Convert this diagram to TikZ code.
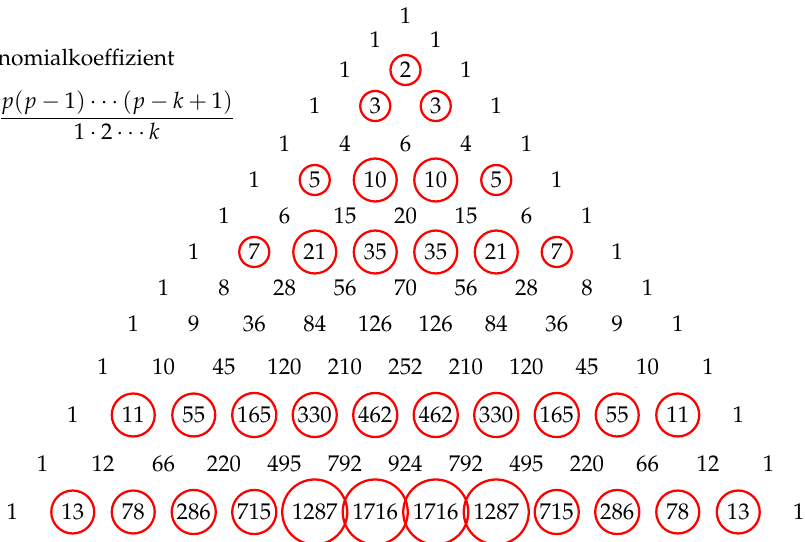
\documentclass[tikz,border=0pt]{standalone}
\usepackage[T1]{fontenc}
\usepackage{mathpazo}
\tikzset{num/.style={inner sep=0pt, font=\normalsize},
  ring/.style={circle, draw=red, line width=1pt, inner sep=0pt, minimum size=#1},
  note/.style={inner sep=0pt, anchor=base east}}
\begin{document}
\begin{tikzpicture}[x=0.44pt, y=-0.44pt]
\clip (0,0) rectangle (805,542);
% ---- label ----
\node[note] (lbl) at (175,65) {Binomialkoeffizient};
\node[note] (frm) at (236,124) {$\displaystyle\frac{p(p-1)\cdots(p-k+1)}{1\cdot 2\cdots k}$};
% ---- triangle, prime rows ringed ----
\foreach \n/\ry/\isp/\row in {0/15.5/0/{1}, 1/40/0/{1,1}, 2/70/1/{1,2,1}, 3/106/1/{1,3,3,1},
  4/144/0/{1,4,6,4,1}, 5/180/1/{1,5,10,10,5,1}, 6/216/0/{1,6,15,20,15,6,1},
  7/252/1/{1,7,21,35,35,21,7,1}, 8/288/0/{1,8,28,56,70,56,28,8,1},
  9/324/0/{1,9,36,84,126,126,84,36,9,1}, 10/367/0/{1,10,45,120,210,252,210,120,45,10,1},
  11/415/1/{1,11,55,165,330,462,462,330,165,55,11,1},
  12/464/0/{1,12,66,220,495,792,924,792,495,220,66,12,1},
  13/512/1/{1,13,78,286,715,1287,1716,1716,1287,715,286,78,13,1}}{
  \foreach \val [count=\j from 0] in \row {
    \pgfmathtruncatemacro\inner{and(\isp==1, and(\j>0, \j<\n))}
    \pgfmathsetmacro\dia{\val>999 ? 28.6 : (\val>99 ? 19.4 : (\val>9 ? 18.9 : 13.2))}
    \ifnum\inner=1
      \node[num, ring=\dia pt] (r\n-\j) at ({405.5+30.25*(2*\j-\n)},\ry) {\val};
    \else
      \node[num] (r\n-\j) at ({405.5+30.25*(2*\j-\n)},\ry) {\val};
    \fi
  }
}
\end{tikzpicture}
\end{document}
